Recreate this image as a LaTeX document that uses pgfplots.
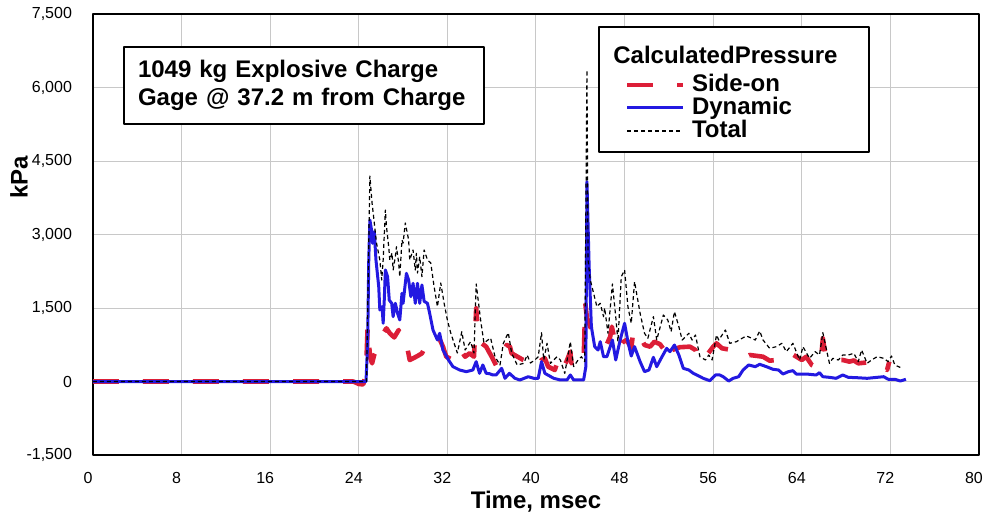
\documentclass[border=0pt]{standalone}
\usepackage{pgfplots}
\pgfplotsset{compat=1.18}
\usepackage{fontspec}
\setmainfont{Liberation Sans}
\definecolor{sred}{RGB}{220,30,55}
\definecolor{dblue}{RGB}{35,25,225}
\definecolor{gridc}{RGB}{200,200,200}
\begin{document}
\begin{tikzpicture}
\useasboundingbox (-46.5pt,-29.5pt) rectangle (446pt,227.5pt);
\begin{axis}[
  at={(0,0)}, anchor=south west,
  scale only axis, width=443pt, height=220.5pt,
  xmin=0, xmax=80, ymin=-1500, ymax=7500,
  xtick={0,8,...,80}, ytick={-1500,0,1500,3000,4500,6000,7500},
  grid=major, major grid style={gridc, line width=0.5pt},
  axis line style={line width=1.2pt, black},
  tick style={draw=none},
  /pgf/number format/assume math mode=true,
  /pgf/number format/1000 sep={,},
  ticklabel style={font=\fontsize{8}{9.6}\selectfont},
  xticklabel style={yshift=-5pt, xshift=-2.5pt},
  yticklabel style={xshift=-7pt},
  xlabel={Time, msec}, ylabel={kPa},
  label style={font=\fontsize{12}{14}\selectfont\bfseries},
  xlabel style={yshift=3pt},
  ylabel style={at={([xshift=-37pt]rel axis cs:0,0.63)}, anchor=center},
  legend image code/.code={\draw[#1] (0pt,0pt) -- (28pt,0pt);},
  legend cell align=left,
  legend style={at={(0.5999,0.8662)}, anchor=north west, draw=none, fill=none,
    font=\fontsize{12}{12}\selectfont\bfseries, inner xsep=0pt, inner ysep=0pt,
    row sep=0pt, nodes={inner xsep=3.25pt, inner ysep=0pt, text height=8.8pt, text depth=2.7pt}},
  line join=round,
]
\addplot[sred, line width=2.3pt, dash pattern=on 13pt off 12pt, line join=round] coordinates {
(0,0) (23.5,0) (24.0,-50) (24.4,-60) (24.65,167) (24.8,1119) (24.9,900) (25.0,506) (25.2,371) (25.4,550)
(25.9,779) (26.2,984) (26.5,1086) (26.8,984) (27.2,900) (27.6,1051) (27.8,813) (28.3,779) (28.6,439)
(28.9,473) (29.3,520) (29.7,575) (30.0,711) (30.4,813) (30.7,779) (31.2,915) (31.6,711) (31.9,506)
(32.5,439) (33.0,371) (33.3,609) (33.6,506) (34.0,575) (34.4,506) (34.6,1494) (34.8,847) (35.1,779)
(35.5,711) (36.0,506) (36.45,303) (36.9,439) (37.35,745) (37.65,711) (37.8,575) (38.85,439) (39.3,405)
(39.8,269) (40.5,439) (40.8,473) (41.1,303) (41.7,235) (42.0,439) (42.3,235) (42.75,405) (43.1,609)
(43.2,371) (43.8,506) (44.3,405) (44.45,1600) (44.6,1300) (44.9,1119) (45.2,984) (45.6,850) (46.1,779)
(46.4,760) (46.7,915) (46.85,1119) (47.1,847) (47.4,643) (47.8,800) (48.2,847) (48.6,677) (48.8,1051)
(49.4,915) (49.8,745) (50.3,711) (50.7,813) (51.2,760) (51.8,575) (52.1,439) (52.3,643) (53.0,700)
(53.9,711) (54.4,643) (54.7,405) (55.3,500) (56.0,711) (56.3,779) (56.8,677) (57.5,650) (58.1,643)
(58.6,609) (59.0,506) (59.3,541) (60.5,506) (61.1,425) (61.7,439) (62.2,506) (62.5,439) (63.2,550)
(64.0,439) (64.4,506) (64.9,337) (65.5,276) (65.7,337) (65.9,881) (66.2,439) (67.7,439) (68.3,405)
(68.7,430) (69.1,371) (70.6,405) (71.2,371) (71.7,235) (71.9,405)
};
\addlegendentry{Side-on}

\addplot[dblue, line width=1.5pt, line join=round] coordinates {
(0,0) (24.65,0) (24.8,779) (24.9,2480) (25.0,3296) (25.2,3025) (25.25,2820) (25.4,3057) (25.55,2480)
(25.8,1935) (25.9,1459) (26.1,1527) (26.2,1188) (26.3,1663) (26.4,2276) (26.6,2139) (26.75,1663)
(26.97,1596) (27.1,1323) (27.3,1596) (27.5,1392) (27.7,1255) (27.9,1800) (28.0,1596) (28.3,2208)
(28.5,2072) (28.7,1731) (28.9,2004) (29.1,1596) (29.3,2004) (29.5,1596) (29.7,1970) (29.9,1637)
(30.2,1596) (30.4,1392) (30.7,1051) (31.1,847) (31.3,984) (31.6,643) (32.1,439) (32.5,303) (33.1,235)
(33.7,201) (34.3,235) (34.6,405) (34.9,167) (35.2,337) (35.5,167) (35.8,160) (36.1,133) (36.4,133)
(36.9,269) (37.2,65) (37.6,167) (38.1,65) (38.55,31) (39.3,98) (39.8,65) (40.2,65) (40.5,405) (40.8,167)
(41.6,65) (42.2,31) (42.8,31) (43.1,133) (43.4,31) (44.3,31) (44.5,303) (44.6,4078) (44.8,2343)
(45.0,1119) (45.3,711) (45.6,643) (45.8,813) (46.1,506) (46.4,506) (46.7,711) (46.9,847) (47.2,439)
(47.6,847) (48.0,1188) (48.3,813) (48.6,520) (48.9,711) (49.4,405) (49.8,201) (50.2,235) (50.6,494)
(50.9,303) (51.3,473) (51.8,677) (52.1,609) (52.5,745) (52.9,541) (53.3,269) (53.8,235) (54.2,167)
(54.7,112) (55.1,65) (55.7,16) (56.2,133) (56.6,133) (56.9,98) (57.4,10) (57.8,65) (58.3,98) (58.7,235)
(59.2,337) (59.8,303) (60.2,351) (60.8,303) (61.4,249) (61.9,235) (62.3,153) (62.8,201) (63.2,221)
(63.5,153) (64.4,153) (65.3,133) (65.6,180) (65.9,98) (66.5,85) (67.1,65) (67.7,133) (68.2,85)
(68.95,78) (69.9,65) (70.8,85) (71.4,98) (71.8,45) (72.4,45) (72.9,10) (73.4,45)
};
\addlegendentry{Dynamic}

\addplot[black, line width=0.6pt, dash pattern=on 2pt off 1.5pt, line join=round] coordinates {
(0,0) (24.5,0) (24.7,0) (25.0,4194) (25.2,3637) (25.3,3438) (25.6,2826) (25.9,2480) (26.07,2072)
(26.2,2480) (26.4,3500) (26.5,3160) (26.7,2751) (26.8,2480) (27.0,2622) (27.1,2276) (27.3,2547)
(27.4,2751) (27.6,2418) (27.7,2139) (27.9,2888) (28.0,2826) (28.2,3235) (28.5,2888) (28.6,2480)
(28.9,2684) (29.1,2276) (29.2,2616) (29.3,2214) (29.5,2547) (29.7,2139) (29.9,2684) (30.2,2480)
(30.5,2418) (30.8,1935) (31.1,1527) (31.4,2010) (31.7,1602) (32.0,1255) (32.3,990) (32.6,786) (32.9,582)
(33.3,1016) (33.6,643) (34.1,813) (34.4,582) (34.6,1990) (35.0,1255) (35.3,786) (35.9,888) (36.3,506)
(36.75,337) (37.05,779) (37.5,996) (37.8,582) (38.3,337) (38.9,371) (39.2,541) (39.5,378) (39.9,439)
(40.2,506) (40.5,996) (40.7,439) (41.0,779) (41.3,371) (41.9,506) (42.2,439) (42.6,167) (43.1,813)
(43.4,303) (43.8,439) (44.1,506) (44.4,405) (44.6,6358) (44.7,2480) (44.9,2072) (45.2,1800) (45.5,1527)
(45.8,1596) (46.1,1323) (46.2,1500) (46.5,984) (46.9,1990) (47.2,1323) (47.4,813) (47.7,2139) (48.0,2276)
(48.3,1527) (48.6,1188) (48.9,2037) (49.4,1392) (49.8,984) (50.1,881) (50.6,1323) (50.9,847) (51.5,1357)
(51.9,1255) (52.2,1016) (52.5,1425) (52.9,1119) (53.2,847) (53.8,984) (54.1,847) (54.4,949) (54.8,506)
(55.3,439) (55.6,541) (55.9,439) (56.3,949) (56.5,847) (57.1,1051) (57.5,779) (58.1,813) (58.6,881)
(59.0,929) (59.5,881) (59.8,847) (60.2,1031) (60.5,847) (61.1,677) (61.7,711) (62.2,779) (62.6,609)
(63.2,779) (63.5,609) (63.8,439) (64.1,711) (64.7,473) (65.2,609) (65.6,541) (65.9,996) (66.3,575)
(66.5,371) (66.8,473) (67.3,439) (67.7,541) (68.2,541) (68.7,575) (69.1,405) (69.4,643) (69.9,371)
(70.3,439) (70.8,506) (71.4,473) (71.8,405) (72.1,520) (72.4,337) (73.0,276)
};
\addlegendentry{Total}

\draw[line width=1pt, fill=white] (rel axis cs:0.5711,0.9705) rectangle (rel axis cs:0.8758,0.6871);
\node[anchor=west, inner sep=0pt, font=\fontsize{12}{12}\selectfont\bfseries]
  at (rel axis cs:0.5869,0.907) {CalculatedPressure};

\node[draw=black, line width=1pt, anchor=north west, align=left, inner xsep=7pt, inner ysep=6.6pt,
  text width=166pt, font=\fontsize{12}{14}\selectfont\bfseries, fill=white]
  at (rel axis cs:0.0339,0.9274) {1049 kg Explosive Charge\\Gage @ 37.2 m from Charge};
\end{axis}
\end{tikzpicture}
\end{document}
